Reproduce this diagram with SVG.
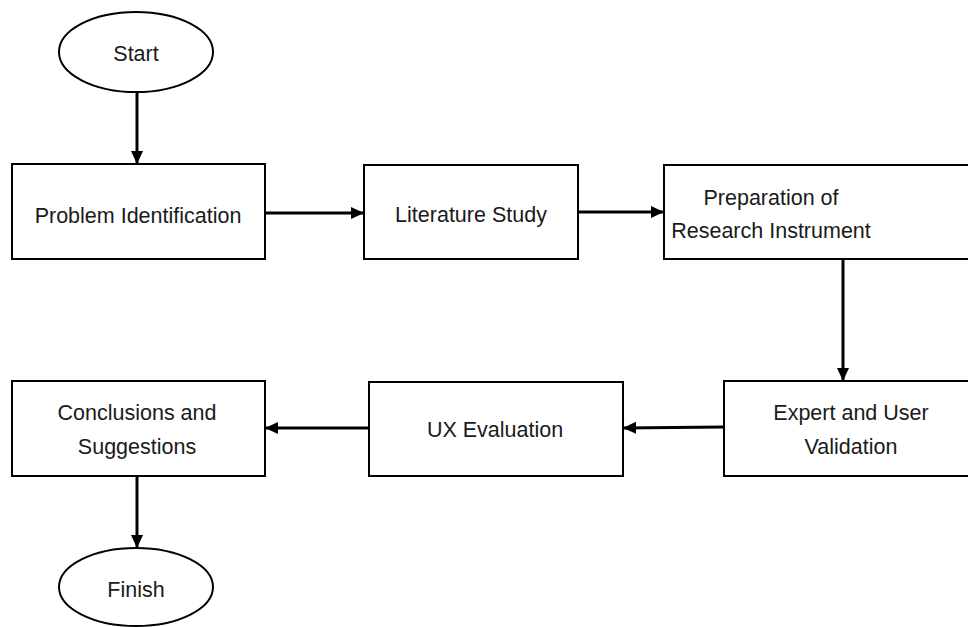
<svg xmlns="http://www.w3.org/2000/svg" width="968" height="627" viewBox="0 0 968 627">
  <style>
    .box { fill: #ffffff; stroke: #000000; stroke-width: 2; }
    .lbl { font-family: "Liberation Sans", Arial, sans-serif; font-size: 21.5px; fill: #1a1a1a; text-anchor: middle; }
    .con { stroke: #000000; stroke-width: 3; fill: none; marker-end: url(#arr); }
  </style>
  <defs>
    <marker id="arr" markerUnits="userSpaceOnUse" markerWidth="14" markerHeight="14" viewBox="0 0 14 14" refX="13" refY="7" orient="auto">
      <path d="M0,1 L13,7 L0,13 Z" fill="#000000"/>
    </marker>
  </defs>
  <rect width="968" height="627" fill="#ffffff"/>

  <g id="connectors">
    <line class="con" x1="137" y1="92" x2="137" y2="164"/>
    <line class="con" x1="265" y1="213" x2="364" y2="213"/>
    <line class="con" x1="578" y1="212" x2="664" y2="212"/>
    <line class="con" x1="843" y1="259" x2="843" y2="381"/>
    <line class="con" x1="724" y1="427" x2="623" y2="428"/>
    <line class="con" x1="369" y1="428" x2="265" y2="428"/>
    <line class="con" x1="137" y1="476" x2="137" y2="548"/>
  </g>

  <g id="start">
    <ellipse class="box" cx="136" cy="52" rx="77" ry="40"/>
    <text class="lbl" x="136" y="61">Start</text>
  </g>
  <g id="problem">
    <rect class="box" x="12" y="164" width="253" height="95"/>
    <text class="lbl" x="138" y="223">Problem Identification</text>
  </g>
  <g id="literature">
    <rect class="box" x="364" y="165" width="214" height="94"/>
    <text class="lbl" x="471" y="222">Literature Study</text>
  </g>
  <g id="preparation">
    <rect class="box" x="664" y="165" width="320" height="94"/>
    <text class="lbl" x="771" y="205">Preparation of</text>
    <text class="lbl" x="771" y="238">Research Instrument</text>
  </g>
  <g id="validation">
    <rect class="box" x="724" y="381" width="260" height="95"/>
    <text class="lbl" x="851" y="420">Expert and User</text>
    <text class="lbl" x="851" y="454">Validation</text>
  </g>
  <g id="ux">
    <rect class="box" x="369" y="382" width="254" height="94"/>
    <text class="lbl" x="495" y="437">UX Evaluation</text>
  </g>
  <g id="conclusions">
    <rect class="box" x="12" y="381" width="253" height="95"/>
    <text class="lbl" x="137" y="420">Conclusions and</text>
    <text class="lbl" x="137" y="454">Suggestions</text>
  </g>
  <g id="finish">
    <ellipse class="box" cx="136" cy="587" rx="77" ry="39"/>
    <text class="lbl" x="136" y="597">Finish</text>
  </g>
</svg>
